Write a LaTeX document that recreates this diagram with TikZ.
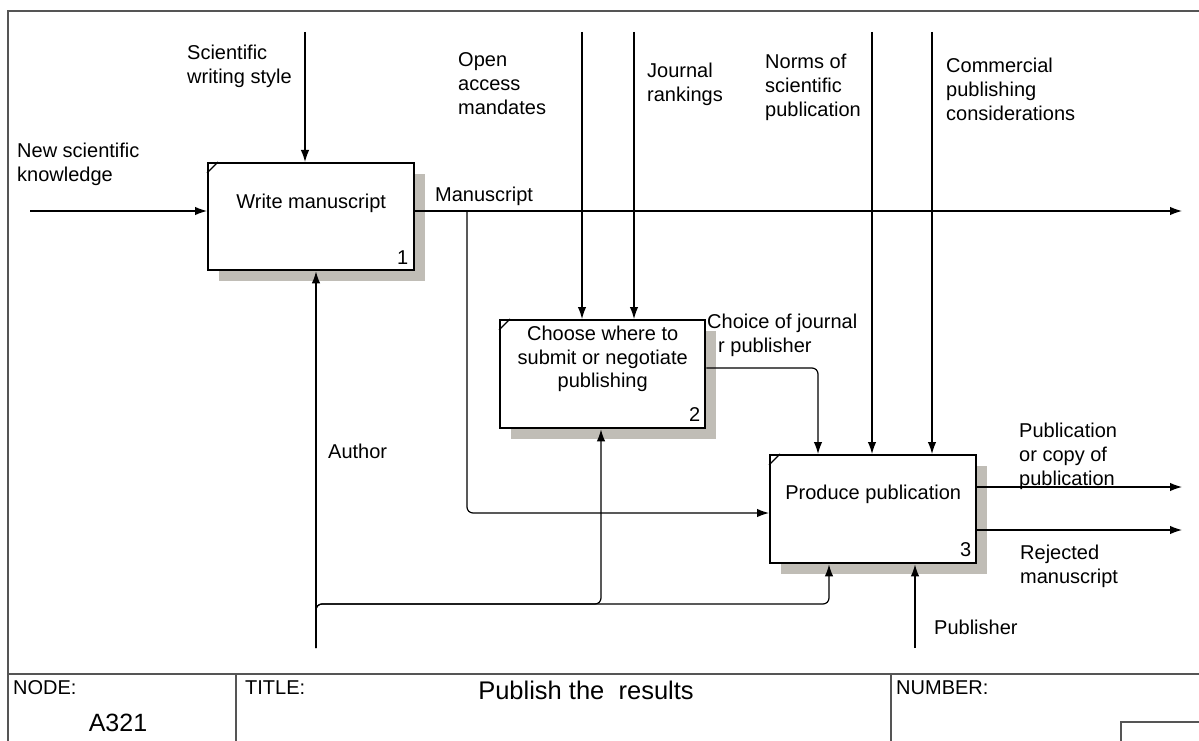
\documentclass[tikz,border=0pt]{standalone}
\usepackage{fontspec}
\setmainfont{Liberation Sans}
\usetikzlibrary{arrows.meta,shadows}
\definecolor{shadowgray}{RGB}{192,189,182}
\definecolor{framegray}{RGB}{85,85,85}
\tikzset{
  actbox/.style={draw=black,line width=2.4pt,fill=white,anchor=north west,inner sep=0pt,
    drop shadow={shadow xshift=11pt,shadow yshift=-11pt,fill=shadowgray,opacity=1}},
  boxtext/.style={align=center,inner sep=0pt,font=\fontsize{20}{23.5}\selectfont},
  boxnum/.style={anchor=south east,inner sep=0pt,font=\fontsize{20}{24}\selectfont},
  lbl/.style={anchor=west,align=left,inner sep=0pt,font=\fontsize{20}{24}\selectfont},
  arr/.style={line width=1.2pt,-{Latex[length=12pt,width=8.5pt]}},
  corner/.style={line width=1.2pt},
  frameline/.style={draw=framegray,line width=1.3pt},
  ttl/.style={inner sep=0pt,font=\fontsize{20}{24}\selectfont},
}
\begin{document}
\begin{tikzpicture}[x=1pt,y=-1pt]
\useasboundingbox (0,0) rectangle (1199,741);
% frame
\draw[frameline] (8,741) -- (8,11) -- (1199,11);
\draw[frameline] (8,674) -- (1199,674);
\draw[frameline] (236,674) -- (236,741);
\draw[frameline] (891,674) -- (891,741);
\draw[frameline] (1121,741) -- (1121,722) -- (1199,722);
\node[ttl,anchor=west] (nodelbl) at (13,688) {NODE:};
\node[ttl,font=\fontsize{25}{29}\selectfont] (nodeval) at (118,723) {A321};
\node[ttl,anchor=west] (titlelbl) at (245,688) {TITLE:};
\node[ttl,font=\fontsize{25.5}{29}\selectfont] (titleval) at (586,690) {Publish the\ \ results};
\node[ttl,anchor=west] (numlbl) at (896,688) {NUMBER:};

% boxes
\node[actbox,minimum width=206pt,minimum height=107pt] (b1) at (207,162) {};
\node[actbox,minimum width=205pt,minimum height=108pt] (b2) at (499,319) {};
\node[actbox,minimum width=206pt,minimum height=108pt] (b3) at (769,454) {};
\foreach \b in {b1,b2,b3}{
  \draw[corner] ([yshift=-11pt]\b.north west) -- ([xshift=11pt]\b.north west);
}
\node[boxtext] (t1) at ([yshift=-41pt]b1.north) {Write manuscript};
\node[boxtext] (t2) at ([yshift=-40pt]b2.north) {Choose where to\\submit or negotiate\\publishing};
\node[boxtext] (t3) at ([yshift=-40pt]b3.north) {Produce publication};
\node[boxnum] (n1) at ([xshift=-7pt,yshift=7pt]b1.south east) {1};
\node[boxnum] (n2) at ([xshift=-6pt,yshift=8pt]b2.south east) {2};
\node[boxnum] (n3) at ([xshift=-6pt,yshift=8pt]b3.south east) {3};

% coordinates
\coordinate (in1) at (30,211);
\coordinate (c1) at (305,32);
\coordinate (c2) at (582,32);
\coordinate (c3) at (634,32);
\coordinate (c4) at (872,32);
\coordinate (c5) at (932,32);
\coordinate (o1) at (1182,211);
\coordinate (m1) at (467,211);
\coordinate (m2) at (467,513);
\coordinate (ch) at (818,368);
\coordinate (o2) at (1182,487);
\coordinate (o3) at (1182,530);
\coordinate (a0) at (316,648);
\coordinate (bus1) at (316,604);
\coordinate (bus2) at (601,604);
\coordinate (bus3) at (829,604);
\coordinate (p0) at (915,648);

% connectors
\draw[arr] (in1) -- (in1 -| b1.west);
\draw[arr] (c1) -- (c1 |- b1.north);
\draw[arr] (c2) -- (c2 |- b2.north);
\draw[arr] (c3) -- (c3 |- b2.north);
\draw[arr] (c4) -- (c4 |- b3.north);
\draw[arr] (c5) -- (c5 |- b3.north);
\draw[arr] (o1 -| b1.east) -- (o1);
\draw[arr,rounded corners=6pt] (m1) -- (m2) -- (m2 -| b3.west);
\draw[arr,rounded corners=6pt] (ch -| b2.east) -- (ch) -- (ch |- b3.north);
\draw[arr] (o2 -| b3.east) -- (o2);
\draw[arr] (o3 -| b3.east) -- (o3);
\draw[arr] (a0) -- (a0 |- b1.south);
\draw[arr,rounded corners=6pt] (a0) -- (bus1) -- (bus3) -- (bus3 |- b3.south);
\draw[arr,rounded corners=6pt] (a0) -- (bus1) -- (bus2) -- (bus2 |- b2.south);
\draw[arr] (p0) -- (p0 |- b3.south);

% labels
\node[lbl] (l1) at (17,164.5) {New scientific\\knowledge};
\node[lbl] (l2) at (187,66.5) {Scientific\\writing style};
\node[lbl] (l3) at (458,84) {Open\\access\\mandates};
\node[lbl] (l4) at (647,84.5) {Journal\\rankings};
\node[lbl] (l5) at (765,87) {Norms of\\scientific\\publication};
\node[lbl] (l6) at (946,89) {Commercial\\publishing\\considerations};
\node[lbl] (l7) at (435,196) {Manuscript};
\node[lbl] (l8a) at (707,323) {Choice of journal};
\node[lbl] (l8b) at (718,347) {r publisher};
\node[lbl] (l9) at (1019,456) {Publication\\or copy of\\publication};
\node[lbl] (l10) at (1020,566) {Rejected\\manuscript};
\node[lbl] (l11) at (934,627) {Publisher};
\node[lbl] (l12) at (328,451) {Author};
\end{tikzpicture}
\end{document}
